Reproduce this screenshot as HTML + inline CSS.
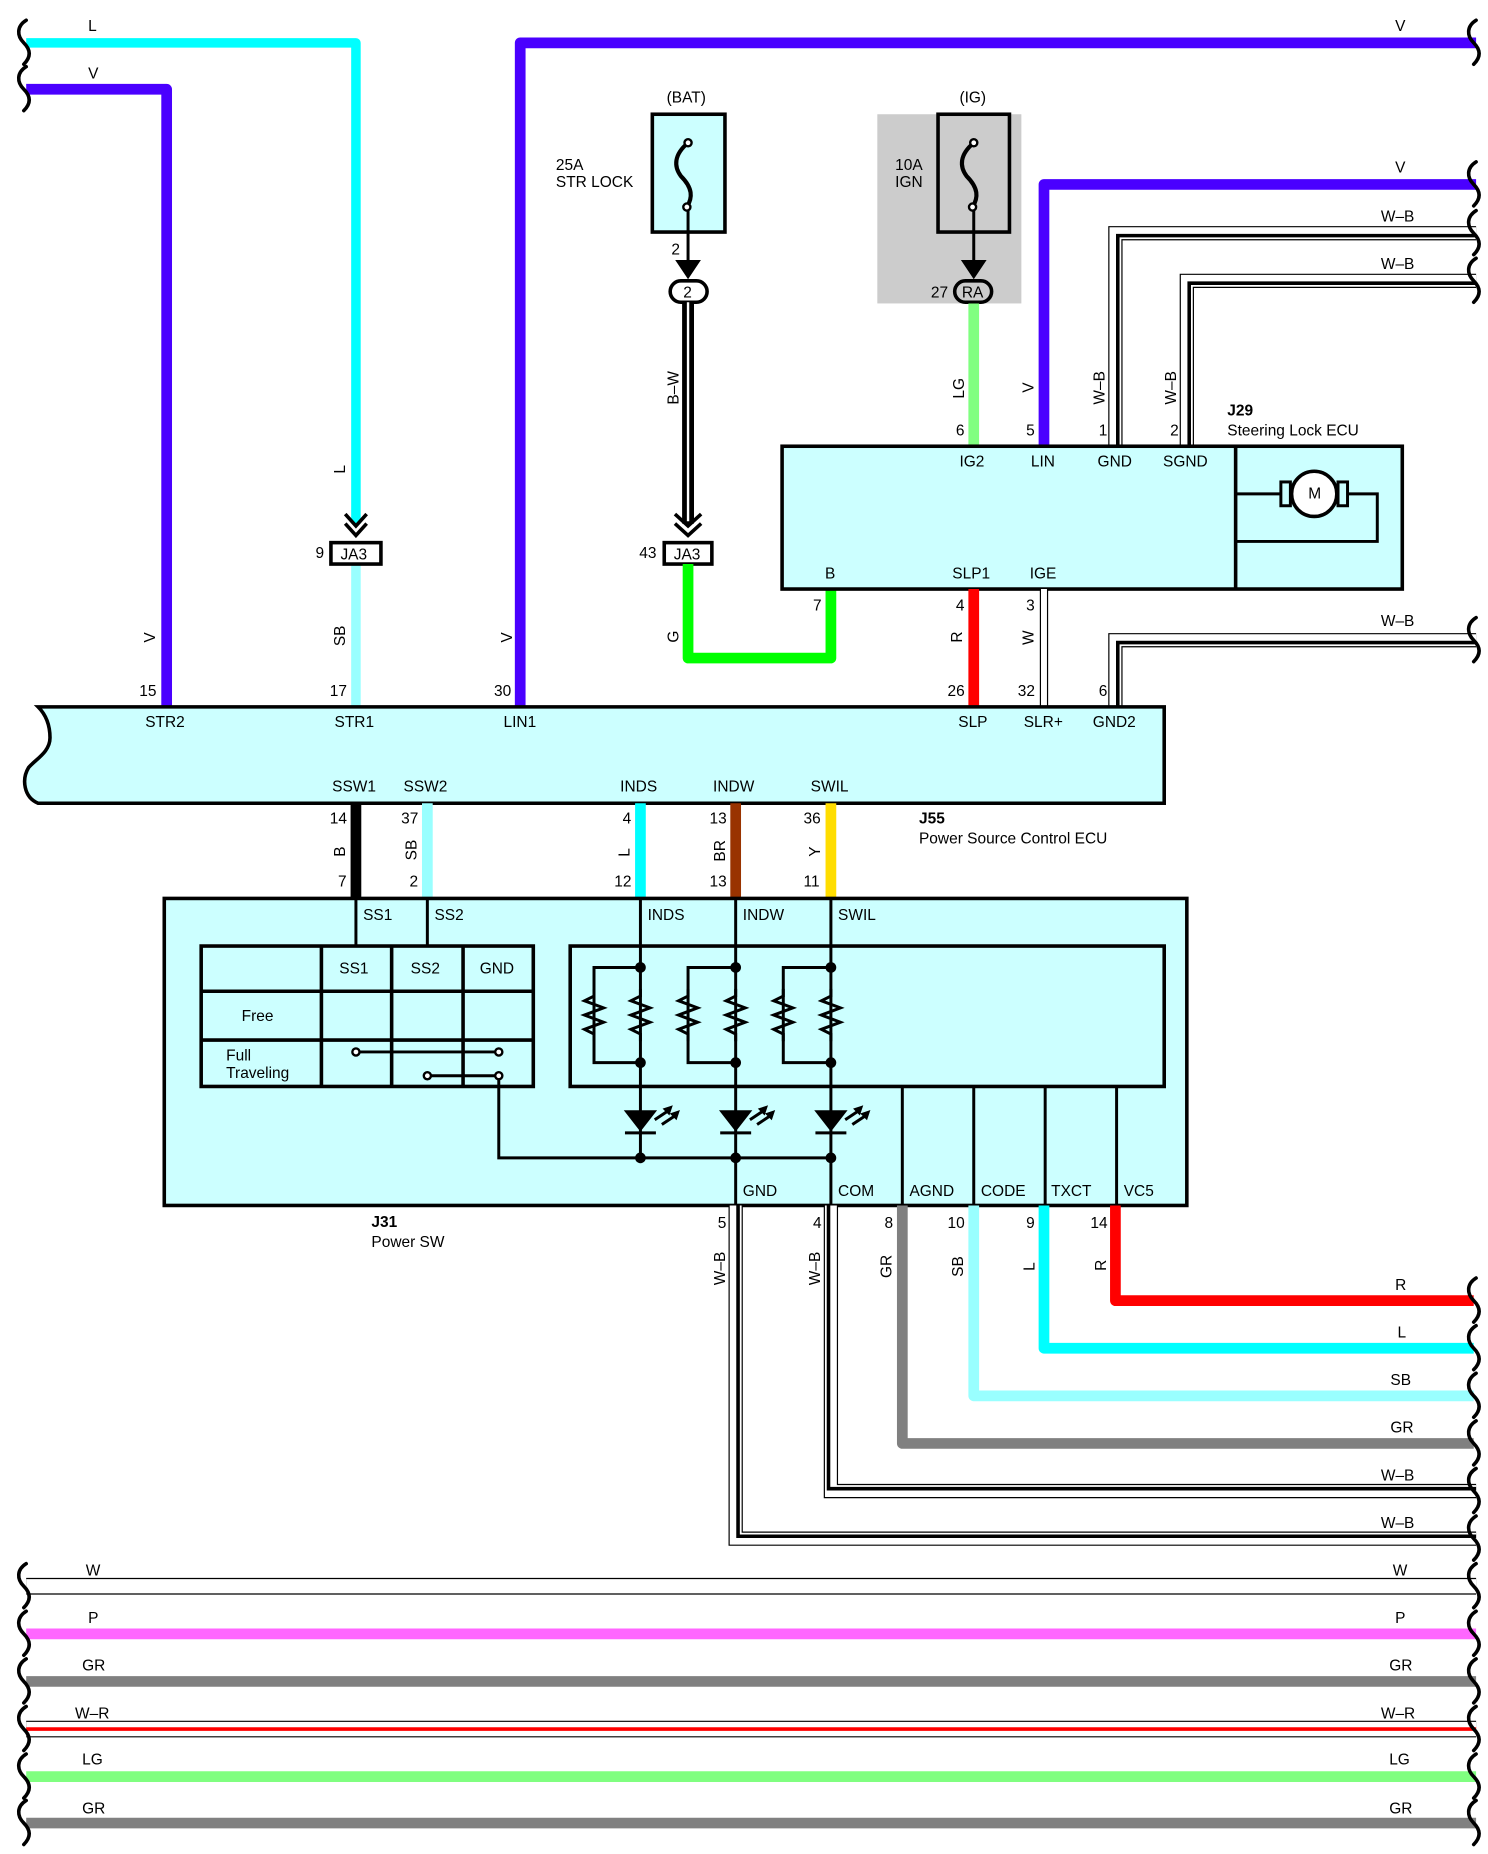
<!DOCTYPE html>
<html><head><meta charset="utf-8"><style>
html,body{margin:0;padding:0;background:#fff;}
svg{display:block;}
text{font-family:"Liberation Sans",sans-serif;font-size:13px;fill:#000;}
</style></head><body>
<svg width="1488" height="1854" viewBox="0 0 1250 1558" preserveAspectRatio="none" xmlns="http://www.w3.org/2000/svg">
<defs>
<g id="brace"><path d="M0,-19 C-8,-14 -8,-6 -2,0 C4,6 4,12 -2,18" fill="none" stroke="#000" stroke-width="3" stroke-linecap="round"/></g>
<g id="res"><path d="M0,-22 L0,-16 L-8,-12 L8,-6 L-8,0 L8,6 L-8,12 L0,16 L0,22" fill="none" stroke="#000" stroke-width="2.5"/></g>
<g id="led"><path d="M-14,-10 L14,-10 L0,8 Z" fill="#000"/><line x1="-13" y1="9" x2="13" y2="9" stroke="#000" stroke-width="2.5"/>
<path d="M12,-2 L24,-10 M18,2 L30,-6" stroke="#000" stroke-width="2.5"/><path d="M26,-13 L20,-11 L24,-7Z M32,-9 L26,-7 L30,-3Z" fill="#000" stroke="#000" stroke-width="1.5"/></g>
</defs>
<rect width="1250" height="1558" fill="#fff"/>

<path d="M22,36 H299 V440" fill="none" stroke="#00ffff" stroke-width="8" stroke-linejoin="round"/>
<path d="M22,75 H140 V594" fill="none" stroke="#4a00ff" stroke-width="9" stroke-linejoin="round"/>
<path d="M1240,36 H437 V594" fill="none" stroke="#4a00ff" stroke-width="9" stroke-linejoin="round"/>
<line x1="299" y1="474" x2="299" y2="594" stroke="#99ffff" stroke-width="8"/>
<use href="#brace" x="22" y="36"/><use href="#brace" x="22" y="75"/>
<use href="#brace" x="1240" y="36"/>
<text x="74" y="26">L</text><text x="74" y="66">V</text><text x="1172" y="26">V</text>
<path d="M290,432 L299,442 L308,432 M290,440 L299,450 L308,440" fill="none" stroke="#000" stroke-width="3"/>
<rect x="278" y="456" width="42" height="18" fill="#fff" stroke="#000" stroke-width="3"/>
<text x="286" y="470">JA3</text><text x="265" y="469">9</text>

<text x="560" y="86">(BAT)</text>
<rect x="548" y="96" width="61" height="99" fill="#ccffff" stroke="#000" stroke-width="3"/>
<path d="M578,120 C566,130 566,140 572,148 C582,158 582,166 577,174" fill="none" stroke="#000" stroke-width="3.5"/>
<circle cx="578" cy="120" r="3" fill="#fff" stroke="#000" stroke-width="2"/><circle cx="577" cy="174" r="3" fill="#fff" stroke="#000" stroke-width="2"/>
<text x="467" y="143">25A</text><text x="467" y="157">STR LOCK</text>
<line x1="578" y1="176" x2="578" y2="228" stroke="#000" stroke-width="2.5"/>
<path d="M570,220 L578,232 L586,220 Z" fill="#000" stroke="#000" stroke-width="3"/>
<text x="564" y="214">2</text>
<rect x="563" y="236" width="31" height="18" rx="9" fill="#fff" stroke="#000" stroke-width="3"/>
<text x="574" y="250" font-size="11">2</text>
<line x1="578" y1="254" x2="578" y2="440" stroke="#000" stroke-width="10"/>
<line x1="578" y1="254" x2="578" y2="438" stroke="#fff" stroke-width="2"/>
<path d="M567,432 L578,442 L589,432 M567,440 L578,450 L589,440" fill="none" stroke="#000" stroke-width="3"/>
<text transform="rotate(-90 570 340)" x="570" y="340">B–W</text>
<rect x="558" y="456" width="40" height="18" fill="#fff" stroke="#000" stroke-width="3"/>
<text x="566" y="470">JA3</text><text x="537" y="469">43</text>
<path d="M578,474 V553 H698 V495" fill="none" stroke="#00ff00" stroke-width="9" stroke-linejoin="round"/>
<text transform="rotate(-90 570 540)" x="570" y="540">G</text>
<text x="683" y="513">7</text>

<rect x="737" y="96" width="121" height="159" fill="#cccccc"/>
<text x="806" y="86">(IG)</text>
<rect x="788" y="96" width="60" height="99" fill="#cccccc" stroke="#000" stroke-width="3"/>
<path d="M818,120 C806,130 806,140 812,148 C822,158 822,166 817,174" fill="none" stroke="#000" stroke-width="3.5"/>
<circle cx="818" cy="120" r="3" fill="#fff" stroke="#000" stroke-width="2"/><circle cx="817" cy="174" r="3" fill="#fff" stroke="#000" stroke-width="2"/>
<text x="752" y="143">10A</text><text x="752" y="157">IGN</text>
<line x1="818" y1="176" x2="818" y2="228" stroke="#000" stroke-width="2.5"/>
<path d="M810,220 L818,232 L826,220 Z" fill="#000" stroke="#000" stroke-width="3"/>
<rect x="802" y="236" width="31" height="18" rx="9" fill="#cccccc" stroke="#000" stroke-width="3"/>
<text x="808" y="250">RA</text><text x="782" y="250">27</text>
<line x1="818" y1="255" x2="818" y2="375" stroke="#80ff80" stroke-width="9"/>
<text transform="rotate(-90 810 335)" x="810" y="335">LG</text><text x="803" y="366">6</text>

<path d="M877,375 V155 H1240" fill="none" stroke="#4a00ff" stroke-width="9" stroke-linejoin="round"/>
<use href="#brace" x="1240" y="155"/><text x="1172" y="145">V</text>
<text transform="rotate(-90 868 330)" x="868" y="330">V</text><text x="862" y="366">5</text>
<g fill="none" stroke-linejoin="miter">
<path d="M937,375 V196 H1240" stroke="#000" stroke-width="12"/><path d="M937,375 V196 H1240" stroke="#fff" stroke-width="10"/><path d="M939,375 V198 H1240" stroke="#000" stroke-width="3"/>
<path d="M997,375 V236 H1240" stroke="#000" stroke-width="12"/><path d="M997,375 V236 H1240" stroke="#fff" stroke-width="10"/><path d="M999,375 V238 H1240" stroke="#000" stroke-width="3"/>
<path d="M937,594 V538 H1240" stroke="#000" stroke-width="12"/><path d="M937,594 V538 H1240" stroke="#fff" stroke-width="10"/><path d="M939,594 V540 H1240" stroke="#000" stroke-width="3"/>
</g>
<use href="#brace" x="1240" y="196"/><use href="#brace" x="1240" y="236"/><use href="#brace" x="1240" y="538"/>
<text x="1160" y="186">W–B</text><text x="1160" y="226">W–B</text><text x="1160" y="526">W–B</text>
<text transform="rotate(-90 928 340)" x="928" y="340">W–B</text><text x="923" y="366">1</text>
<text transform="rotate(-90 988 340)" x="988" y="340">W–B</text><text x="983" y="366">2</text>
<text x="1031" y="349" font-weight="bold">J29</text><text x="1031" y="366">Steering Lock ECU</text>

<rect x="657" y="375" width="521" height="120" fill="#ccffff" stroke="#000" stroke-width="3"/>
<line x1="1038" y1="375" x2="1038" y2="495" stroke="#000" stroke-width="3"/>
<path d="M1038,415 H1157 V455 H1038" fill="none" stroke="#000" stroke-width="2.5"/>
<rect x="1076" y="405" width="8" height="20" fill="#ccffff" stroke="#000" stroke-width="2.5"/>
<rect x="1124" y="405" width="8" height="20" fill="#ccffff" stroke="#000" stroke-width="2.5"/>
<circle cx="1104" cy="415" r="19" fill="#fff" stroke="#000" stroke-width="3"/>
<text x="1099" y="419" font-size="12">M</text>
<text x="806" y="392">IG2</text><text x="866" y="392">LIN</text><text x="922" y="392">GND</text><text x="977" y="392">SGND</text>
<text x="693" y="486">B</text><text x="800" y="486">SLP1</text><text x="865" y="486">IGE</text>

<line x1="818" y1="495" x2="818" y2="594" stroke="#ff0000" stroke-width="9"/>
<line x1="877" y1="495" x2="877" y2="594" stroke="#000" stroke-width="7"/><line x1="877" y1="495" x2="877" y2="594" stroke="#fff" stroke-width="5"/>
<text x="803" y="513">4</text><text x="862" y="513">3</text>
<text transform="rotate(-90 808 540)" x="808" y="540">R</text><text transform="rotate(-90 868 542)" x="868" y="542">W</text>
<text x="796" y="585">26</text><text x="855" y="585">32</text><text x="923" y="585">6</text>
<text x="117" y="585">15</text><text x="277" y="585">17</text><text x="415" y="585">30</text>
<text transform="rotate(-90 130 540)" x="130" y="540">V</text>
<text transform="rotate(-90 290 543)" x="290" y="543">SB</text>
<text transform="rotate(-90 430 540)" x="430" y="540">V</text>
<text transform="rotate(-90 290 398)" x="290" y="398">L</text>

<path d="M32,594 H978 V675 H32 C20,670 18,655 24,645 C30,638 42,632 42,620 C42,608 38,600 32,594 Z" fill="#ccffff" stroke="#000" stroke-width="3"/>
<text x="122" y="611">STR2</text><text x="281" y="611">STR1</text><text x="423" y="611">LIN1</text>
<text x="805" y="611">SLP</text><text x="860" y="611">SLR+</text><text x="918" y="611">GND2</text>
<text x="279" y="665">SSW1</text><text x="339" y="665">SSW2</text><text x="521" y="665">INDS</text><text x="599" y="665">INDW</text><text x="681" y="665">SWIL</text>
<text x="772" y="692" font-weight="bold">J55</text><text x="772" y="709">Power Source Control ECU</text>

<line x1="299" y1="675" x2="299" y2="755" stroke="#000" stroke-width="9"/>
<line x1="359" y1="675" x2="359" y2="755" stroke="#99ffff" stroke-width="9"/>
<line x1="538" y1="675" x2="538" y2="755" stroke="#00ffff" stroke-width="9"/>
<line x1="618" y1="675" x2="618" y2="755" stroke="#993300" stroke-width="9"/>
<line x1="698" y1="675" x2="698" y2="755" stroke="#ffdd00" stroke-width="9"/>
<text x="277" y="692">14</text><text x="337" y="692">37</text><text x="523" y="692">4</text><text x="596" y="692">13</text><text x="675" y="692">36</text>
<text x="284" y="745">7</text><text x="344" y="745">2</text><text x="516" y="745">12</text><text x="596" y="745">13</text><text x="675" y="745">11</text>
<text transform="rotate(-90 290 720)" x="290" y="720">B</text>
<text transform="rotate(-90 350 723)" x="350" y="723">SB</text>
<text transform="rotate(-90 529 720)" x="529" y="720">L</text>
<text transform="rotate(-90 609 724)" x="609" y="724">BR</text>
<text transform="rotate(-90 689 720)" x="689" y="720">Y</text>

<rect x="138" y="755" width="859" height="258" fill="#ccffff" stroke="#000" stroke-width="3"/>
<g stroke="#000" stroke-width="2.5" fill="none">
<line x1="299" y1="755" x2="299" y2="795"/><line x1="359" y1="755" x2="359" y2="795"/>
<line x1="538" y1="755" x2="538" y2="973"/><line x1="618" y1="755" x2="618" y2="1013"/><line x1="698" y1="755" x2="698" y2="1013"/>
<line x1="758" y1="913" x2="758" y2="1013"/><line x1="818" y1="913" x2="818" y2="1013"/><line x1="878" y1="913" x2="878" y2="1013"/><line x1="938" y1="913" x2="938" y2="1013"/>
<path d="M419,904 V973 H698"/>
</g>
<text x="305" y="773">SS1</text><text x="365" y="773">SS2</text>
<text x="544" y="773">INDS</text><text x="624" y="773">INDW</text><text x="704" y="773">SWIL</text>
<g stroke="#000" stroke-width="3" fill="none">
<rect x="169" y="795" width="279" height="118"/>
<line x1="270" y1="795" x2="270" y2="913"/><line x1="329" y1="795" x2="329" y2="913"/><line x1="389" y1="795" x2="389" y2="913"/>
<line x1="169" y1="833" x2="448" y2="833"/><line x1="169" y1="874" x2="448" y2="874"/>
<rect x="479" y="795" width="499" height="118"/>
</g>
<text x="285" y="818">SS1</text><text x="345" y="818">SS2</text><text x="403" y="818">GND</text>
<text x="203" y="858">Free</text><text x="190" y="891">Full</text><text x="190" y="906">Traveling</text>
<g stroke="#000" stroke-width="2.5"><line x1="299" y1="884" x2="419" y2="884"/><line x1="359" y1="904" x2="419" y2="904"/></g>
<g fill="#fff" stroke="#000" stroke-width="2"><circle cx="299" cy="884" r="3"/><circle cx="419" cy="884" r="3"/><circle cx="359" cy="904" r="3"/><circle cx="419" cy="904" r="3"/></g>
<g>
<path d="M538,813 H499 V893 H538" fill="none" stroke="#000" stroke-width="2.5"/>
<use href="#res" x="499" y="853"/><use href="#res" x="538" y="853"/>
<path d="M618,813 H578 V893 H618" fill="none" stroke="#000" stroke-width="2.5"/>
<use href="#res" x="578" y="853"/><use href="#res" x="618" y="853"/>
<path d="M698,813 H658 V893 H698" fill="none" stroke="#000" stroke-width="2.5"/>
<use href="#res" x="658" y="853"/><use href="#res" x="698" y="853"/>
</g>
<g fill="#000">
<circle cx="538" cy="813" r="4.5"/><circle cx="538" cy="893" r="4.5"/><circle cx="618" cy="813" r="4.5"/><circle cx="618" cy="893" r="4.5"/><circle cx="698" cy="813" r="4.5"/><circle cx="698" cy="893" r="4.5"/>
<circle cx="538" cy="973" r="4.5"/><circle cx="618" cy="973" r="4.5"/><circle cx="698" cy="973" r="4.5"/>
</g>
<use href="#led" x="538" y="943"/><use href="#led" x="618" y="943"/><use href="#led" x="698" y="943"/>
<text x="624" y="1005">GND</text><text x="704" y="1005">COM</text><text x="764" y="1005">AGND</text><text x="824" y="1005">CODE</text><text x="883" y="1005">TXCT</text><text x="944" y="1005">VC5</text>
<text x="312" y="1031" font-weight="bold">J31</text><text x="312" y="1048">Power SW</text>

<g fill="none" stroke-linejoin="round">
<path d="M937,1013 V1093 H1238" stroke="#ff0000" stroke-width="9"/>
<path d="M877,1013 V1133 H1238" stroke="#00ffff" stroke-width="9"/>
<path d="M818,1013 V1173 H1238" stroke="#99ffff" stroke-width="9"/>
<path d="M758,1013 V1213 H1238" stroke="#808080" stroke-width="9"/>
</g>
<g fill="none">
<path d="M698,1013 V1253 H1240" stroke="#000" stroke-width="12"/><path d="M698,1013 V1253 H1240" stroke="#fff" stroke-width="10"/><path d="M696,1013 V1251 H1240" stroke="#000" stroke-width="3"/>
<path d="M618,1013 V1293 H1240" stroke="#000" stroke-width="12"/><path d="M618,1013 V1293 H1240" stroke="#fff" stroke-width="10"/><path d="M620,1013 V1291 H1240" stroke="#000" stroke-width="3"/>
</g>
<text x="603" y="1032">5</text><text x="683" y="1032">4</text><text x="743" y="1032">8</text><text x="796" y="1032">10</text><text x="862" y="1032">9</text><text x="916" y="1032">14</text>
<text transform="rotate(-90 609 1080)" x="609" y="1080">W–B</text>
<text transform="rotate(-90 689 1080)" x="689" y="1080">W–B</text>
<text transform="rotate(-90 749 1074)" x="749" y="1074">GR</text>
<text transform="rotate(-90 809 1073)" x="809" y="1073">SB</text>
<text transform="rotate(-90 869 1068)" x="869" y="1068">L</text>
<text transform="rotate(-90 929 1068)" x="929" y="1068">R</text>
<text x="1172" y="1084">R</text><text x="1174" y="1124">L</text><text x="1168" y="1164">SB</text><text x="1168" y="1204">GR</text><text x="1160" y="1244">W–B</text><text x="1160" y="1284">W–B</text>
<use href="#brace" x="1240" y="1093"/><use href="#brace" x="1240" y="1133"/><use href="#brace" x="1240" y="1173"/><use href="#brace" x="1240" y="1213"/><use href="#brace" x="1240" y="1253"/><use href="#brace" x="1240" y="1293"/>

<g>
<line x1="22" y1="1333" x2="1240" y2="1333" stroke="#000" stroke-width="14"/><line x1="22" y1="1333" x2="1240" y2="1333" stroke="#fff" stroke-width="12"/>
<line x1="22" y1="1373" x2="1240" y2="1373" stroke="#ff66ff" stroke-width="9"/>
<line x1="22" y1="1413" x2="1240" y2="1413" stroke="#808080" stroke-width="9"/>
<line x1="22" y1="1453" x2="1240" y2="1453" stroke="#000" stroke-width="14"/><line x1="22" y1="1453" x2="1240" y2="1453" stroke="#fff" stroke-width="12"/><line x1="22" y1="1453" x2="1240" y2="1453" stroke="#ff0000" stroke-width="3"/>
<line x1="22" y1="1493" x2="1240" y2="1493" stroke="#80ff80" stroke-width="9"/>
<line x1="22" y1="1532" x2="1240" y2="1532" stroke="#808080" stroke-width="9"/>
</g>
<g>
<use href="#brace" x="22" y="1333"/><use href="#brace" x="22" y="1373"/><use href="#brace" x="22" y="1413"/><use href="#brace" x="22" y="1453"/><use href="#brace" x="22" y="1493"/><use href="#brace" x="22" y="1532"/>
<use href="#brace" x="1240" y="1333"/><use href="#brace" x="1240" y="1373"/><use href="#brace" x="1240" y="1413"/><use href="#brace" x="1240" y="1453"/><use href="#brace" x="1240" y="1493"/><use href="#brace" x="1240" y="1532"/>
</g>
<text x="72" y="1324">W</text><text x="74" y="1364">P</text><text x="69" y="1404">GR</text><text x="63" y="1444">W–R</text><text x="69" y="1483">LG</text><text x="69" y="1524">GR</text>
<text x="1170" y="1324">W</text><text x="1172" y="1364">P</text><text x="1167" y="1404">GR</text><text x="1160" y="1444">W–R</text><text x="1167" y="1483">LG</text><text x="1167" y="1524">GR</text>
</svg>
</body></html>
